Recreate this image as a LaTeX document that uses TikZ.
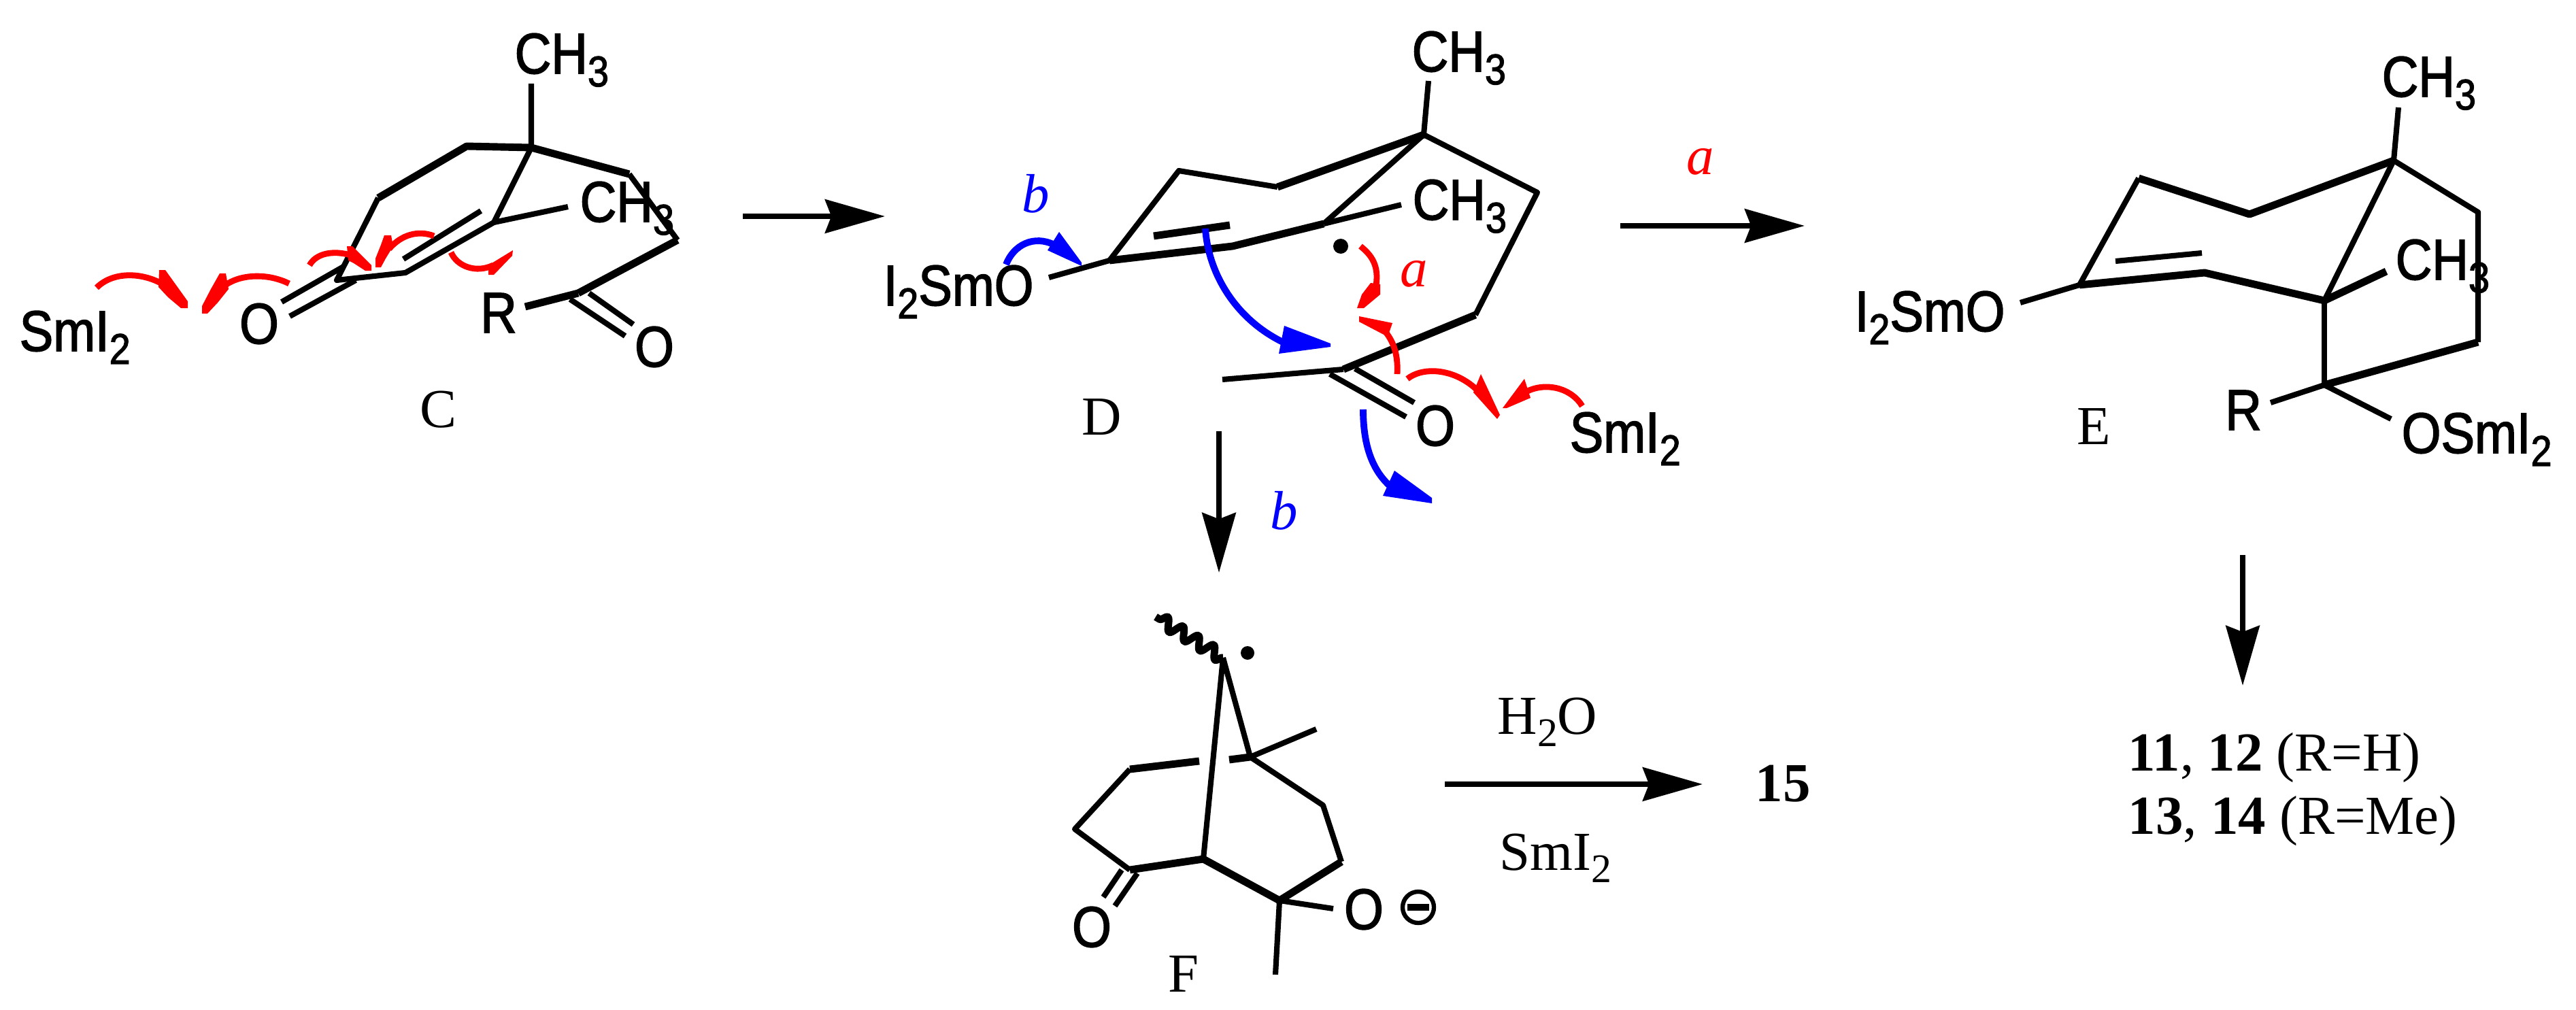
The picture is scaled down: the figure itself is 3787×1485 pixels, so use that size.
\documentclass[tikz,border=0pt]{standalone}
\usepackage{fontspec}
\setmainfont{Liberation Serif}
\newfontfamily\chemfont[FakeStretch=0.88, FakeBold=1.8]{Liberation Sans}
\usetikzlibrary{arrows.meta, decorations.pathmorphing}

\newcommand{\chemsub}[1]{\raisebox{-5.4pt}{\fontsize{18}{18}\selectfont #1}}
\newcommand{\labsub}[1]{\raisebox{-5pt}{\fontsize{17}{17}\selectfont #1}}

\tikzset{
    bond/.style={line width=2.3pt, line join=round},
    boldbond/.style={line width=3.1pt, line join=round},
    atom/.style={font=\chemfont\fontsize{24}{24}\selectfont, inner sep=0pt, anchor=base west},
    atomc/.style={font=\chemfont\fontsize{24}{24}\selectfont, inner sep=0pt},
    lab/.style={font=\fontsize{23}{23}\selectfont, inner sep=0pt},
    rxn/.style={line width=2.3pt, -{Stealth[length=25pt, width=14pt, inset=2.6pt]}},
    redcurve/.style={line width=2.5pt, draw=red},
    bluecurve/.style={line width=2.8pt, draw=blue},
}

\begin{document}
\begin{tikzpicture}[x=0.01cm, y=-0.01cm]
    \useasboundingbox (0,0) rectangle (3787,1485);

    % Molecule C
    \coordinate (cMe) at (781,123);
    \coordinate (cQ) at (781,217);
    \coordinate (c1) at (686,215);
    \coordinate (c2) at (556,291);
    \coordinate (c3) at (495,412);
    \coordinate (c4) at (596,401);
    \coordinate (c5) at (726,327);
    \coordinate (cMeB) at (835,304);
    \coordinate (c6) at (925,256);
    \coordinate (c7) at (996,353);
    \coordinate (c8) at (850,431);
    \coordinate (cR) at (772,451);
    \draw[bond] (cMe)--(cQ)--(c5)--(c4)--(c3)--(c2);
    \draw[boldbond] (cQ)--(c1)--(c2);
    \draw[boldbond] (cQ)--(c6);
    \draw[bond] (c6)--(c7);
    \draw[boldbond] (c7)--(c8);
    \draw[bond] (c5)--(cMeB);
    \draw[boldbond] (c8)--(cR);
    \coordinate (cDa) at (593,381);
    \coordinate (cDb) at (707,310);
    \draw[bond] (cDa)--(cDb);
    % the two carbonyls
    \coordinate (cOa1) at (414,444);
    \coordinate (cOa2) at (505,392);
    \coordinate (cOb1) at (426,465);
    \coordinate (cOb2) at (523,412);
    \draw[bond] (cOa1)--(cOa2);
    \draw[bond] (cOb1)--(cOb2);
    \coordinate (cPa1) at (838,440);
    \coordinate (cPa2) at (919,494);
    \coordinate (cPb1) at (866,431);
    \coordinate (cPb2) at (931,477);
    \draw[bond] (cPa1)--(cPa2);
    \draw[bond] (cPb1)--(cPb2);

    \node[atom] (cCH3a) at (756,108) {CH\chemsub{3}};
    \node[atom] (cCH3b) at (852,326) {CH\chemsub{3}};
    \node[atom] (cSm) at (28,516) {SmI\chemsub{2}};
    \node[atomc] (cO1) at (381,476) {O};
    \node[atomc] (cO2) at (962,510) {O};
    \node[atomc] (cRr) at (733,460) {R};
    \node[lab] (cLab) at (644,602) {C};

    % Red electron arrows on C
    \draw[redcurve] (142,423) .. controls (165,400) and (205,400) .. (236,416);
    \fill[red] (234,397)--(243,397)--(276,443)--(276,453)--(266,453)--(247,437)--(233,422)--cycle;
    \draw[redcurve] (425,417) .. controls (395,402) and (355,402) .. (330,420);
    \fill[red] (323,402)--(332,402)--(336,425)--(320,445)--(305,461)--(297,461)--(297,450)--(310,425)--cycle;
    \draw[redcurve] (455,390) .. controls (465,372) and (490,368) .. (515,375);
    \fill[red] (510,362)--(518,362)--(546,390)--(546,398)--(537,398)--(520,387)--(512,383)--cycle;
    \draw[redcurve] (638,347) .. controls (615,338) and (590,345) .. (572,366);
    \fill[red] (565,346)--(575,346)--(578,362)--(567,380)--(560,393)--(552,393)--(552,380)--(560,360)--cycle;
    \draw[redcurve] (663,371) .. controls (672,392) and (700,402) .. (725,390);
    \fill[red] (754,368)--(753,376)--(726,404)--(718,404)--(718,390)--cycle;

    % Molecule D
    \coordinate (dMe) at (2100,119);
    \coordinate (dQ) at (2093,198);
    \coordinate (d1) at (2260,283);
    \coordinate (d2) at (2169,463);
    \coordinate (d3) at (1975,543);
    \coordinate (dMeL) at (1797,558);
    \coordinate (d4) at (1878,275);
    \coordinate (d5) at (1733,251);
    \coordinate (d6) at (1631,383);
    \coordinate (d7) at (1812,362);
    \coordinate (d8) at (1946,329);
    \coordinate (dMeB) at (2060,301);
    \coordinate (dOb) at (1542,408);
    \draw[bond] (dMe)--(dQ)--(d1)--(d2);
    \draw[boldbond] (d2)--(d3);
    \draw[bond] (d3)--(dMeL);
    \draw[boldbond] (dQ)--(d4);
    \draw[bond] (d4)--(d5)--(d6);
    \draw[boldbond] (d6)--(d7)--(d8);
    \draw[bond] (d8)--(dQ);
    \draw[bond] (d8)--(dMeB);
    \draw[bond] (d6)--(dOb);
    \coordinate (dDa) at (1696,347);
    \coordinate (dDb) at (1808,331);
    \draw[boldbond] (dDa)--(dDb);
    \coordinate (dPa1) at (1955,550);
    \coordinate (dPa2) at (2067,613);
    \coordinate (dPb1) at (1992,542);
    \coordinate (dPb2) at (2079,592);
    \draw[bond] (dPa1)--(dPa2);
    \draw[bond] (dPb1)--(dPb2);
    \fill (1971,362) circle (11);

    \node[atom] (dCH3a) at (2075,105) {CH\chemsub{3}};
    \node[atom] (dCH3b) at (2076,323) {CH\chemsub{3}};
    \node[atom] (dOSm) at (1298,449) {I\chemsub{2}SmO};
    \node[atom] (dSm) at (2307,665) {SmI\chemsub{2}};
    \node[atomc] (dO) at (2110,626) {O};
    \node[lab] (dLab) at (1620,613) {D};
    \node[lab, text=blue] (dLabB) at (1523,285) {\textit{b}};
    \node[lab, text=red] (dLabA) at (2079,403) {\textit{a}};

    % Electron arrows on D
    \draw[bluecurve] (1479,389) .. controls (1490,360) and (1520,345) .. (1550,360);
    \fill[blue] (1557,341)--(1590,386)--(1590,391)--(1540,368)--cycle;
    \draw[bluecurve] (1772,336) .. controls (1776,400) and (1815,470) .. (1890,505);
    \fill[blue] (1888,479)--(1956,505)--(1956,510)--(1880,520)--cycle;
    \draw[bluecurve] (2004,602) .. controls (2004,650) and (2015,690) .. (2045,716);
    \fill[blue] (2050,692)--(2105,732)--(2105,740)--(2033,729)--cycle;
    \draw[redcurve] (2000,362) .. controls (2020,378) and (2028,395) .. (2022,425);
    \fill[red] (2029,418)--(2029,433)--(2005,453)--(1995,453)--(2002,433)--(2015,416)--cycle;
    \draw[redcurve] (2054,550) .. controls (2056,515) and (2045,495) .. (2028,478);
    \fill[red] (2047,475)--(2040,495)--(1998,473)--(1998,465)--cycle;
    \draw[redcurve] (2069,557) .. controls (2090,540) and (2135,540) .. (2170,572);
    \fill[red] (2177,550)--(2205,610)--(2201,616)--(2166,577)--cycle;
    \draw[redcurve] (2326,597) .. controls (2310,570) and (2270,560) .. (2240,578);
    \fill[red] (2241,557)--(2250,585)--(2215,600)--(2209,600)--cycle;

    % Molecule E
    \coordinate (eMe) at (3526,158);
    \coordinate (eQ) at (3519,236);
    \coordinate (e1) at (3643,312);
    \coordinate (e2) at (3643,503);
    \coordinate (e3) at (3417,566);
    \coordinate (e4) at (3307,315);
    \coordinate (e5) at (3144,262);
    \coordinate (e6) at (3057,419);
    \coordinate (e7) at (3241,401);
    \coordinate (e8) at (3417,442);
    \coordinate (eMeB) at (3508,399);
    \coordinate (eOb) at (2970,445);
    \coordinate (eRb) at (3338,592);
    \coordinate (eOc) at (3515,616);
    \draw[bond] (eMe)--(eQ)--(e1)--(e2);
    \draw[boldbond] (e2)--(e3);
    \draw[boldbond] (eQ)--(e4)--(e5);
    \draw[bond] (e5)--(e6);
    \draw[boldbond] (e6)--(e7)--(e8);
    \draw[bond] (e8)--(eQ);
    \draw[boldbond] (e8)--(eMeB);
    \draw[bond] (e8)--(e3);
    \draw[bond] (e6)--(eOb);
    \draw[bond] (e3)--(eRb);
    \draw[bond] (e3)--(eOc);
    \coordinate (eDa) at (3110,384);
    \coordinate (eDb) at (3237,372);
    \draw[bond] (eDa)--(eDb);

    \node[atom] (eCH3a) at (3501,142) {CH\chemsub{3}};
    \node[atom] (eCH3b) at (3521,411) {CH\chemsub{3}};
    \node[atom] (eOSm) at (2726,487) {I\chemsub{2}SmO};
    \node[atom] (eSm) at (3530,666) {OSmI\chemsub{2}};
    \node[atomc] (eRr) at (3298,603) {R};
    \node[lab] (eLab) at (3078,627) {E};

    % Molecule F
    \coordinate (fA) at (1798,967);
    \coordinate (fW) at (1699,907);
    \coordinate (f1) at (1769,1263);
    \coordinate (f2) at (1881,1324);
    \coordinate (f3) at (1972,1267);
    \coordinate (f4) at (1945,1184);
    \coordinate (f5) at (1838,1113);
    \coordinate (fMe) at (1935,1072);
    \coordinate (fG1) at (1807,1117);
    \coordinate (fG2) at (1763,1119);
    \coordinate (f6) at (1661,1131);
    \coordinate (f7) at (1580,1219);
    \coordinate (f8) at (1661,1279);
    \coordinate (fOb) at (1960,1336);
    \coordinate (fMeB) at (1875,1433);
    \draw[boldbond, decorate, decoration={snake, segment length=7.5pt, amplitude=2.6pt}] (fA)--(fW);
    \draw[bond] (fA)--(f1);
    \draw[boldbond] (f1)--(f2);
    \draw[boldbond] (f2)--(f3);
    \draw[bond] (f3)--(f4)--(f5)--(fA);
    \draw[bond] (f5)--(fMe);
    \draw[boldbond] (f5)--(fG1);
    \draw[boldbond] (fG2)--(f6);
    \draw[bond] (f6)--(f7)--(f8);
    \draw[boldbond] (f8)--(f1);
    \draw[bond] (f2)--(fOb);
    \draw[bond] (f2)--(fMeB);
    \coordinate (fPa1) at (1649,1279);
    \coordinate (fPa2) at (1622,1319);
    \coordinate (fPb1) at (1672,1284);
    \coordinate (fPb2) at (1639,1332);
    \draw[bond] (fPa1)--(fPa2);
    \draw[bond] (fPb1)--(fPb2);
    \fill (1834,960) circle (10);

    \node[atomc] (fO1) at (1605,1363) {O};
    \node[atomc] (fO2) at (2005,1337) {O};
    \node[circle, draw, line width=1.8pt, minimum size=0.46cm, inner sep=0pt] (fMinus) at (2085,1334) {\rule[-1.4pt]{0.32cm}{2.8pt}};
    \node[lab] (fLab) at (1740,1432) {F};
    \node[lab] (fH2O) at (2275,1062) {H\labsub{2}O};
    \node[lab] (fSm) at (2287,1262) {SmI\labsub{2}};
    \node[lab] (f15) at (2621,1152) {\textbf{15}};

    % Reaction arrows
    \coordinate (r1s) at (1092,318);
    \coordinate (r1e) at (1301,318);
    \coordinate (r2s) at (2382,332);
    \coordinate (r2e) at (2653,332);
    \coordinate (r3s) at (1792,634);
    \coordinate (r3e) at (1792,842);
    \coordinate (r4s) at (2124,1153);
    \coordinate (r4e) at (2503,1153);
    \coordinate (r5s) at (3297,816);
    \coordinate (r5e) at (3297,1008);
    \draw[rxn] (r1s)--(r1e);
    \draw[rxn] (r2s)--(r2e);
    \draw[rxn] (r3s)--(r3e);
    \draw[rxn] (r4s)--(r4e);
    \draw[rxn] (r5s)--(r5e);

    \node[lab, text=red] (r2Lab) at (2500,238) {\textit{a}};
    \node[lab, text=blue] (r3Lab) at (1888,751) {\textit{b}};
    \node[lab, anchor=base west] (prodA) at (3128,1133) {\textbf{11}, \textbf{12} (R=H)};
    \node[lab, anchor=base west] (prodB) at (3128,1226) {\textbf{13}, \textbf{14} (R=Me)};
\end{tikzpicture}
\end{document}
